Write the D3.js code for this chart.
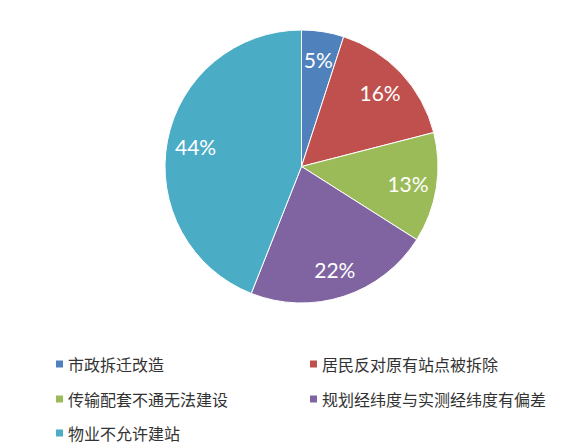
<!DOCTYPE html>
<html>
<head>
<meta charset="utf-8">
<script src="https://cdn.jsdelivr.net/npm/d3@7"></script>
<style>
  html, body { margin: 0; padding: 0; background: #fff; }
  svg { display: block; }
</style>
</head>
<body>
<div id="chart"></div>
<script>
// chart data
const categories = ['市政拆迁改造', '居民反对原有站点被拆除', '传输配套不通无法建设', '规划经纬度与实测经纬度有偏差', '物业不允许建站'];
const values = [5, 16, 13, 22, 44];
const colors = ['#4F81BD', '#C0504D', '#9BBB59', '#8064A2', '#4BACC6'];

const width = 582, height = 445;
const cx = 301.5, cy = 166.5, radius = 136.5;

const svg = d3.select('#chart').append('svg')
    .attr('width', width)
    .attr('height', height);

const data = categories.map((c, i) => ({ name: c, value: values[i], color: colors[i] }));

const pie = d3.pie()
    .sort(null)
    .value(d => d.value);

const arc = d3.arc()
    .innerRadius(0)
    .outerRadius(radius);

const labelArc = d3.arc()
    .innerRadius(radius * 0.79)
    .outerRadius(radius * 0.79);

const g = svg.append('g')
    .attr('transform', `translate(${cx},${cy})`);

const slices = g.selectAll('.slice')
    .data(pie(data))
    .enter()
    .append('g')
    .attr('class', 'slice');

slices.append('path')
    .attr('d', arc)
    .attr('fill', d => d.data.color)
    .attr('stroke', '#fff')
    .attr('stroke-width', 1);

const total = d3.sum(values);
slices.append('text')
    .attr('transform', d => `translate(${labelArc.centroid(d)})`)
    .attr('text-anchor', 'middle')
    .attr('dominant-baseline', 'central')
    .attr('fill', '#fff')
    .attr('font-family', 'Lato, "Open Sans", sans-serif')
    .attr('font-size', '21px')
    .text(d => Math.round(d.data.value / total * 100) + '%');

// legend, two columns
const colX = [56, 310];
const rowY = [364, 399, 433];

const legend = svg.selectAll('.legend-item')
    .data(data)
    .enter()
    .append('g')
    .attr('class', 'legend-item')
    .attr('transform', (d, i) => `translate(${colX[i % 2]},${rowY[Math.floor(i / 2)]})`);

legend.append('rect')
    .attr('x', 0)
    .attr('y', -3.5)
    .attr('width', 7)
    .attr('height', 7)
    .attr('fill', d => d.color);

legend.append('text')
    .attr('x', 12)
    .attr('y', 0)
    .attr('dominant-baseline', 'central')
    .attr('fill', '#333')
    .attr('font-family', '"Noto Sans CJK SC", sans-serif')
    .attr('font-size', '16px')
    .text(d => d.name);
</script>
</body>
</html>
